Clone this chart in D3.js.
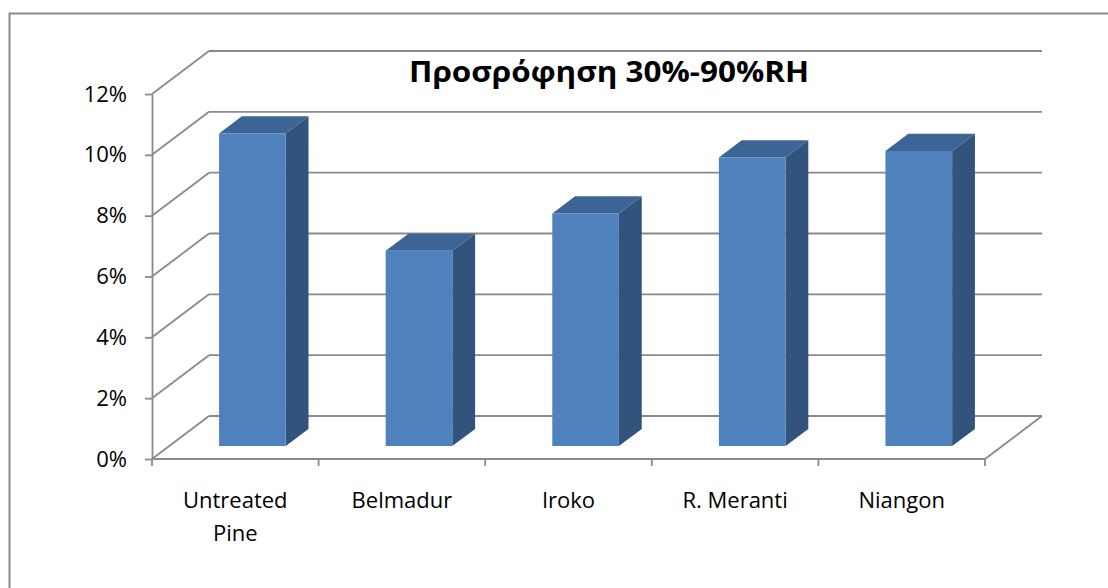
<!DOCTYPE html>
<html>
<head>
<meta charset="utf-8">
<script src="https://cdn.jsdelivr.net/npm/d3@7"></script>
<style>
  body { margin: 0; background: #fff; }
  text { font-family: "Open Sans", sans-serif; fill: #000; }
</style>
</head>
<body>
<svg id="chart" width="1108" height="588"></svg>
<script>
// data
var categories = ["Untreated Pine", "Belmadur", "Iroko", "R. Meranti", "Niangon"];
var values = [0.1028, 0.0642, 0.0765, 0.0949, 0.0970];
var yTicks = [0, 0.02, 0.04, 0.06, 0.08, 0.10, 0.12];
var title = "Προσρόφηση 30%-90%RH";

var svg = d3.select("#chart"),
    width = +svg.attr("width"),
    height = +svg.attr("height");

// 3d box of the plot: front plane + depth offset
// (plotTop, not "top": window.top is read only)
var plotLeft = 152, plotRight = 985, plotBottom = 459, plotTop = 94;
var depthX = 57, depthY = -43;
var barFront = 0.3, barBack = 0.7; // bar position in depth (0 front, 1 back)

var grid = "#8a8a8a";
var front = "#4f81bd", side = "#32537c", topCol = "#3c6494";

var x = d3.scaleBand()
    .domain(categories)
    .range([plotLeft, plotRight])
    .paddingInner(0.6)
    .paddingOuter(0.3);

var y = d3.scaleLinear()
    .domain([0, 0.12])
    .range([plotBottom, plotTop]);

function px(xv, d) { return xv + depthX * d; }
function py(yv, d) { return yv + depthY * d; }

// outer frame
svg.append("rect")
  .attr("x", 9.5).attr("y", 13.5)
  .attr("width", 1200).attr("height", 700)
  .attr("fill", "none")
  .attr("stroke", grid)
  .attr("stroke-width", 2);

var walls = svg.append("g")
  .attr("stroke", grid)
  .attr("stroke-width", 1.8)
  .attr("fill", "none");

// back wall gridlines + side wall diagonals
yTicks.forEach(t => {
  walls.append("line")
    .attr("x1", px(plotLeft, 1)).attr("y1", py(y(t), 1))
    .attr("x2", px(plotRight, 1)).attr("y2", py(y(t), 1));
  walls.append("line")
    .attr("x1", plotLeft).attr("y1", y(t))
    .attr("x2", px(plotLeft, 1)).attr("y2", py(y(t), 1));
});

// floor front edge and right edge
walls.append("path")
  .attr("d", d3.line()([
    [plotLeft, plotBottom], [plotRight, plotBottom], [px(plotRight, 1), py(plotBottom, 1)]
  ]));

// bars
var bars = svg.append("g")
  .selectAll("g")
  .data(categories.map((c, i) => ({cat: c, v: values[i]})))
  .enter()
  .append("g");

function poly(pts) { return "M" + pts.map(p => p.join(",")).join("L") + "Z"; }

bars.each(function(d) {
  var g = d3.select(this);
  var x0 = x(d.cat), x1 = x(d.cat) + x.bandwidth();
  var y0 = y(0), y1 = y(d.v);
  var fl = [px(x0, barFront), px(x1, barFront), px(x1, barBack), px(x0, barBack)];
  // side face
  g.append("path")
    .attr("d", poly([
      [fl[1], py(y0, barFront)], [fl[2], py(y0, barBack)],
      [fl[2], py(y1, barBack)], [fl[1], py(y1, barFront)]
    ]))
    .attr("fill", side);
  // top face
  g.append("path")
    .attr("d", poly([
      [fl[0], py(y1, barFront)], [fl[1], py(y1, barFront)],
      [fl[2], py(y1, barBack)], [fl[3], py(y1, barBack)]
    ]))
    .attr("fill", topCol);
  // front face
  g.append("path")
    .attr("d", poly([
      [fl[0], py(y0, barFront)], [fl[1], py(y0, barFront)],
      [fl[1], py(y1, barFront)], [fl[0], py(y1, barFront)]
    ]))
    .attr("fill", front);
});

// y axis
var yAxis = svg.append("g")
  .attr("transform", "translate(" + plotLeft + ",0)")
  .call(d3.axisLeft(y).tickValues(yTicks).tickFormat(d3.format(".0%")).tickSize(7).tickSizeOuter(0));
yAxis.select(".domain").attr("stroke", grid).attr("stroke-width", 1.8);
yAxis.selectAll(".tick line").attr("stroke", grid).attr("stroke-width", 1.8);
yAxis.selectAll(".tick text")
  .attr("x", -25)
  .style("font-size", "22px")
  .style("font-family", "'Open Sans', sans-serif")
  .attr("fill", "#000");

// category tick marks at category boundaries
var catW = (plotRight - plotLeft) / categories.length;
var bounds = d3.range(categories.length + 1).map(i => plotLeft + i * catW);
svg.append("g")
  .selectAll("line")
  .data(bounds)
  .enter()
  .append("line")
  .attr("x1", d => d).attr("x2", d => d)
  .attr("y1", plotBottom).attr("y2", plotBottom + 7)
  .attr("stroke", grid)
  .attr("stroke-width", 1.8);

// category labels (wrapped when too wide)
var labels = svg.append("g")
  .selectAll("text")
  .data(categories)
  .enter()
  .append("text")
  .attr("x", (d, i) => plotLeft + catW * (i + 0.5))
  .attr("y", 508)
  .attr("text-anchor", "middle")
  .style("font-size", "22px");

labels.each(function(d) {
  var t = d3.select(this);
  t.text(d);
  if (this.getComputedTextLength() > catW * 0.9) {
    var words = d.split(" ");
    t.text(null);
    words.forEach((w, k) => {
      t.append("tspan")
        .attr("x", t.attr("x"))
        .attr("dy", k == 0 ? 0 : 33)
        .text(w);
    });
  }
});

// title
svg.append("text")
  .attr("x", 609)
  .attr("y", 82)
  .attr("text-anchor", "middle")
  .attr("textLength", 400)
  .attr("lengthAdjust", "spacingAndGlyphs")
  .style("font-size", "29px")
  .style("font-weight", "bold")
  .text(title);
</script>
</body>
</html>
